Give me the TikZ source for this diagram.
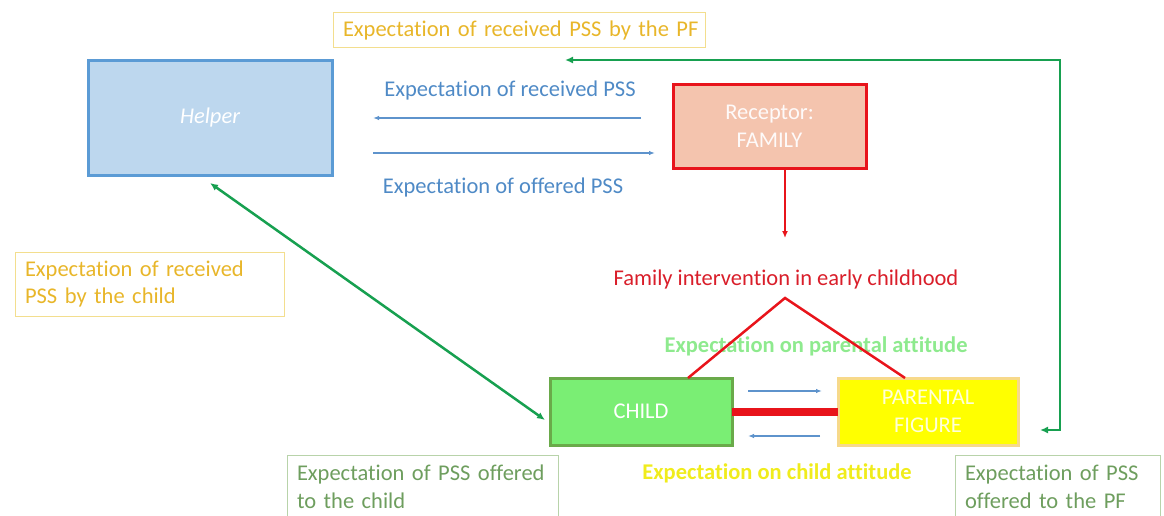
\documentclass[tikz,border=0pt]{standalone}
\usepackage{fontspec}
\setmainfont{Carlito}[Ligatures=NoCommon]
\usetikzlibrary{arrows.meta}
\definecolor{gold}{HTML}{E8B62A}
\definecolor{goldline}{HTML}{F3DE8E}
\definecolor{bluetxt}{HTML}{4F8AC6}
\definecolor{blueline}{HTML}{5E93CC}
\definecolor{helperfill}{HTML}{BDD7EE}
\definecolor{helperline}{HTML}{5B9BD5}
\definecolor{recfill}{HTML}{F4C4AE}
\definecolor{redline}{HTML}{E8141B}
\definecolor{redtxt}{HTML}{D91E2A}
\definecolor{linkgreen}{HTML}{17A050}
\definecolor{childfill}{HTML}{7AEE74}
\definecolor{childline}{HTML}{6AAA4A}
\definecolor{pffill}{HTML}{FFFF00}
\definecolor{pfline}{HTML}{F7D98A}
\definecolor{paletxt}{HTML}{8EEA8E}
\definecolor{yellowtxt}{HTML}{F0EC1C}
\definecolor{sagetxt}{HTML}{6E9E5E}
\definecolor{sageline}{HTML}{B8D3AA}
\newcommand{\bodyfont}{\fontsize{22.5}{27.5}\selectfont}
\tikzset{
  x=1pt, y=-1pt,
  every node/.style={inner sep=0pt, outer sep=0pt, font=\bodyfont},
  box/.style={draw, line width=3pt, minimum width=#1, align=center, text=white},
  note/.style={line width=1pt, align=left, anchor=north west, inner xsep=10pt, inner ysep=6pt, text width=#1},
  notegold/.style={note=#1, draw=goldline, text=gold},
  notesage/.style={note=#1, draw=sageline, text=sagetxt},
  thin arrow/.style={blueline, line width=1.3pt, -{Latex[length=6pt,width=4.5pt]}},
  link/.style={linkgreen, line width=2.5pt, {Latex[length=8pt,width=7pt]}-{Latex[length=8pt,width=7pt]}},
  redlink/.style={redline, line width=2.5pt},
}
\begin{document}
\begin{tikzpicture}
\useasboundingbox (0,0) rectangle (1164,516);

% boxes
\node[box=244pt, minimum height=114pt, fill=helperfill, draw=helperline, text=white, font=\bodyfont\itshape] (helper) at (210,118) {Helper};
\node[box=193pt, minimum height=83pt, fill=recfill, draw=redline, text=white!92!recfill] (rec) at (769.5,126.5) {Receptor:\\FAMILY};
\node[box=182pt, minimum height=67pt, fill=childfill, draw=childline] (child) at (641,411.5) {CHILD};
\node[box=180pt, minimum height=67pt, fill=pffill, draw=pfline, text=white!85!pffill] (pf) at (928,411.5) {PARENTAL\\FIGURE};

% note boxes
\node[notegold=362pt, inner xsep=5pt, minimum height=35pt, inner ysep=4pt] (notepf) at (333,13) {\hspace*{5pt}Expectation of received PSS by the PF};
\node[notegold=249pt, minimum height=64pt] (notechild) at (15,252) {Expectation of received\\PSS by the child};
\node[notesage=251pt, minimum height=64pt] (offchild) at (287,455) {Expectation of PSS offered\\to the child};
\node[notesage=185pt, minimum height=64pt] (offpf) at (955,455) {Expectation of PSS\\offered to the PF};

% labels
\node[text=bluetxt] (lrecv) at (510,91) {Expectation of received PSS};
\node[text=bluetxt] (loff) at (503,188) {Expectation of offered PSS};
\node[text=redtxt] (linter) at (786,279) {Family intervention in early childhood};
\node[text=paletxt, font=\bodyfont\bfseries] (lpar) at (816,346) {Expectation on parental attitude};
\node[text=yellowtxt, font=\bodyfont\bfseries] (lchild) at (777,473) {Expectation on child attitude};

% helper <-> family
\coordinate (hr1) at (373,118);
\coordinate (rl1) at (641,118);
\coordinate (hr2) at (373,153);
\coordinate (rl2) at (655,153);
\draw[thin arrow] (rl1) -- (hr1);
\draw[thin arrow] (hr2) -- (rl2);

% family -> intervention
\coordinate (down) at (785,238);
\draw[redline, line width=2.5pt, -{Latex[length=7pt,width=6pt]}] (rec.south -| down) -- (down);

% intervention triangle
\coordinate (apex) at (785,298);
\draw[redlink] (child.north -| 688,0) -- (apex) -- (pf.north -| 905,0);

% child -- parental figure
\draw[redline, line width=8pt] (child.east) -- (pf.west);
\coordinate (cpa) at (748,391);
\coordinate (cpb) at (822,391);
\coordinate (pca) at (820,436);
\coordinate (pcb) at (748,436);
\draw[thin arrow] (cpa) -- (cpb);
\draw[thin arrow] (pca) -- (pcb);

% helper <-> child
\coordinate (hc) at (210,183);
\coordinate (ch) at (545,420);
\draw[link] (hc) -- (ch);

% helper <-> parental figure
\coordinate (pfend) at (1040,430);
\coordinate (topend) at (565,60);
\draw[link] (pfend) -- (1060,430) -- (1060,60) -- (topend);
\end{tikzpicture}
\end{document}
